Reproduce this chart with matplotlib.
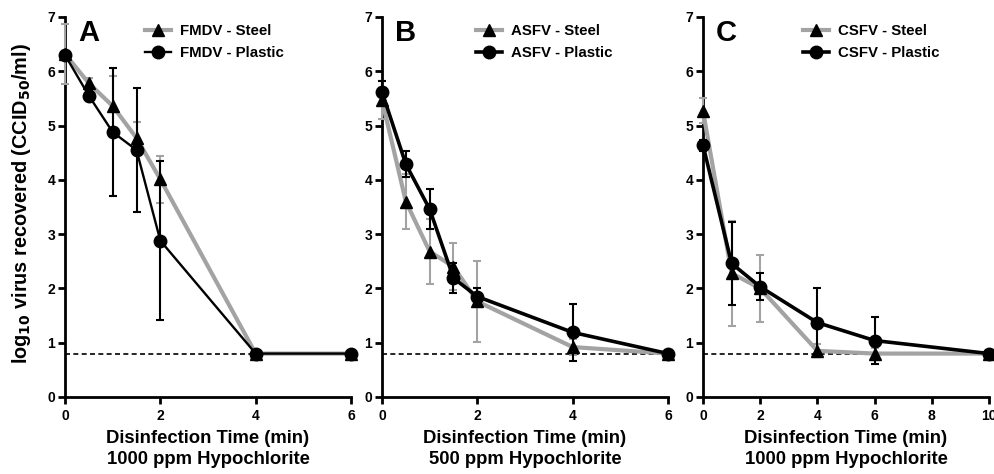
import numpy as np
import matplotlib.pyplot as plt
from matplotlib.lines import Line2D

plt.rcParams['font.family'] = ['Liberation Sans', 'DejaVu Sans']
plt.rcParams['font.weight'] = 'bold'
plt.rcParams['mathtext.default'] = 'bf'

# panel A - FMDV, 1000 ppm
t_a = [0, 0.5, 1, 1.5, 2, 4, 6]
fmdv_steel = [6.32, 5.78, 5.36, 4.77, 4.01, 0.8, 0.8]
fmdv_steel_err = [0.55, 0.1, 0.55, 0.3, 0.43, 0.0, 0.0]
fmdv_plastic = [6.30, 5.55, 4.88, 4.55, 2.88, 0.8, 0.8]
fmdv_plastic_err = [0.05, 0.1, 1.18, 1.14, 1.46, 0.0, 0.0]

# panel B - ASFV, 500 ppm
t_b = [0, 0.5, 1, 1.5, 2, 4, 6]
asfv_steel = [5.47, 3.60, 2.68, 2.40, 1.76, 0.92, 0.8]
asfv_steel_err = [0.35, 0.5, 0.6, 0.43, 0.75, 0.15, 0.0]
asfv_plastic = [5.62, 4.29, 3.46, 2.19, 1.85, 1.19, 0.8]
asfv_plastic_err = [0.2, 0.24, 0.37, 0.27, 0.15, 0.52, 0.0]

# panel C - CSFV, 1000 ppm
t_c = [0, 1, 2, 4, 6, 10]
csfv_steel = [5.27, 2.28, 2.00, 0.85, 0.8, 0.8]
csfv_steel_err = [0.23, 0.97, 0.61, 0.12, 0.1, 0.0]
csfv_plastic = [4.64, 2.46, 2.03, 1.37, 1.04, 0.8]
csfv_plastic_err = [0.1, 0.77, 0.25, 0.63, 0.43, 0.0]

detection_limit = 0.8

panels = [
    ("A", "FMDV", t_a, fmdv_steel, fmdv_steel_err, fmdv_plastic, fmdv_plastic_err,
     [0, 2, 4, 6], "1000 ppm Hypochlorite", 1.7, 0.28),
    ("B", "ASFV", t_b, asfv_steel, asfv_steel_err, asfv_plastic, asfv_plastic_err,
     [0, 2, 4, 6], "500 ppm Hypochlorite", 2.6, 0.33),
    ("C", "CSFV", t_c, csfv_steel, csfv_steel_err, csfv_plastic, csfv_plastic_err,
     [0, 2, 4, 6, 8, 10], "1000 ppm Hypochlorite", 2.6, 0.35),
]

grey = '#a3a3a3'
fig = plt.figure(figsize=(9.95, 4.74), dpi=100)
lefts = [65 / 995, 382 / 995, 703 / 995]

for left, (letter, virus, t, st, st_e, pl, pl_e, xt, conc, plw, legx) in zip(lefts, panels):
    ax = fig.add_axes([left, 77 / 474, 286 / 995, 380 / 474])
    ax.errorbar(t, st, yerr=st_e, color=grey, lw=3, marker='^', ms=8,
                mfc='black', mec='black', ecolor=grey, elinewidth=1.5,
                capsize=3, capthick=1.5, clip_on=False, zorder=3)
    ax.errorbar(t, pl, yerr=pl_e, color='black', lw=plw, marker='o', ms=9,
                ecolor='black', elinewidth=1.5, capsize=3, capthick=1.5,
                clip_on=False, zorder=4)
    ax.axhline(detection_limit, color='black', ls=(0, (3, 2)), lw=1.2, zorder=2)

    ax.set_xlim(0, xt[-1])
    ax.set_ylim(0, 7)
    ax.set_xticks(xt)
    ax.set_yticks(range(8))
    for s in ['top', 'right']:
        ax.spines[s].set_visible(False)
    for s in ['left', 'bottom']:
        ax.spines[s].set_linewidth(2)
    ax.tick_params(width=2, length=5, labelsize=10)
    ax.tick_params(axis='x', pad=4)
    ax.tick_params(axis='y', pad=2)

    ax.set_xlabel("Disinfection Time (min)\n" + conc, fontsize=13.3,
                  fontweight='bold', labelpad=5, linespacing=1.25)
    ax.text(0.045, 0.995, letter, transform=ax.transAxes, fontsize=21,
            fontweight='bold', va='top', ha='left')

    handles = [
        Line2D([], [], color=grey, lw=3, marker='^', ms=8, mfc='black', mec='black'),
        Line2D([], [], color='black', lw=plw, marker='o', ms=9),
    ]
    ax.legend(handles, [virus + " - Steel", virus + " - Plastic"], loc='upper left',
              bbox_to_anchor=(legx, 0.982), frameon=False, fontsize=10.8,
              handlelength=1.7, handletextpad=0.6, labelspacing=0.55,
              borderpad=0, borderaxespad=0)

fig.text(0.022, (474 - 204) / 474, r"log$_{10}$ virus recovered (CCID$_{50}$/ml)",
         rotation=90, va='center', ha='center', fontsize=14.3, fontweight='bold')

plt.savefig("out.png", dpi=100)
